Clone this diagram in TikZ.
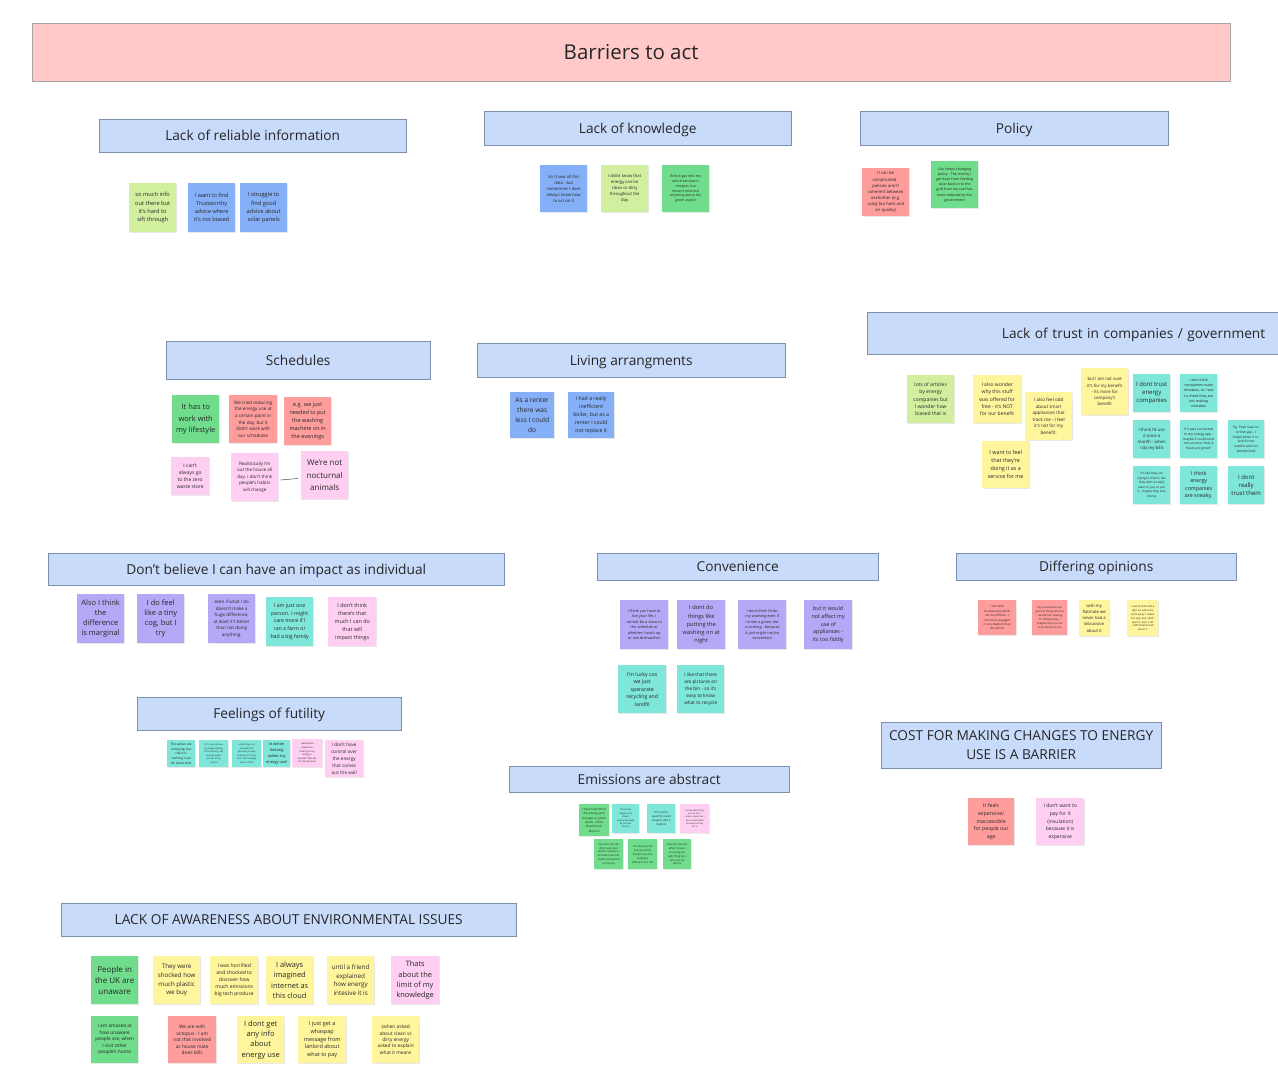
\documentclass[tikz,border=0pt]{standalone}
\usepackage{fontspec}
\setmainfont{Open Sans}
\usepackage{tikz}
\usetikzlibrary{shadows}
\definecolor{cTitulo}{HTML}{FFC9C9}
\definecolor{cCab}{HTML}{C9DBFB}
\definecolor{cBordeCab}{HTML}{7E8FAE}
\definecolor{cLima}{HTML}{D2EFA0}
\definecolor{cAzul}{HTML}{85AFF6}
\definecolor{cVerde}{HTML}{6FDD8B}
\definecolor{cRoja}{HTML}{FF9D9D}
\definecolor{cRosa}{HTML}{FFCFF1}
\definecolor{cAmarilla}{HTML}{FFF59D}
\definecolor{cMorada}{HTML}{B7A8F7}
\definecolor{cTurquesa}{HTML}{7FE6DA}
\tikzset{
	titulo/.style={draw=gray!70, fill=cTitulo, anchor=north west, text=black!85, font=\fontsize{20.5}{24}\selectfont}, % barra superior
	cabecera/.style={draw=cBordeCab, fill=cCab, anchor=north west, inner sep=0pt, text depth=0pt, align=center, text=black!85, font=\fontsize{13.7}{19}\selectfont}, % titulos de grupo
	nota/.style={anchor=north west, align=center, inner sep=0.8pt, minimum width=47pt, minimum height=48pt, text=black!85, drop shadow={shadow xshift=0.5pt, shadow yshift=-0.6pt, opacity=0.18}}, % post-it
	caja/.style 2 args={minimum width=#1pt, minimum height=#2pt}, % tamano del post-it
	letra/.style 2 args={font=\fontsize{#1}{#2}\selectfont}, % tamano de letra
	lima/.style={fill=cLima},
	azul/.style={fill=cAzul},
	verde/.style={fill=cVerde},
	roja/.style={fill=cRoja},
	rosa/.style={fill=cRosa},
	amarilla/.style={fill=cAmarilla},
	morada/.style={fill=cMorada},
	turquesa/.style={fill=cTurquesa},
	union/.style={draw=black!70, line width=0.5pt} % linea entre notas
}
\begin{document}
\begin{tikzpicture}[x=1pt, y=-1pt]
	\path[use as bounding box, fill=white] (0,0) rectangle (1278,1067);
	\node[titulo, minimum width=1198pt, minimum height=58pt] (tit) at (32,23) {Barriers to act};

	\node[cabecera, caja={307}{33}] (hrel) at (99,119) {Lack of reliable information};
	\node[cabecera, caja={307}{34}] (hkno) at (484,111) {Lack of knowledge};
	\node[cabecera, caja={308}{34}] (hpol) at (860,111) {Policy};
	\node[cabecera, caja={264}{38}] (hsch) at (166,341) {Schedules};
	\node[cabecera, caja={308}{34}] (hliv) at (477,343) {Living arrangments};
	\node[cabecera, caja={411}{42}, text width=385pt, align=right] (htru) at (867,312) {Lack of trust in companies / government};
	\node[cabecera, caja={456}{32}] (hind) at (48,553) {Don't believe I can have an impact as individual};
	\node[cabecera, caja={281}{27}] (hcon) at (597,553) {Convenience};
	\node[cabecera, caja={280}{27}] (hdif) at (956,553) {Differing opinions};
	\node[cabecera, caja={264}{33}] (hfut) at (137,697) {Feelings of futility};
	\node[cabecera, caja={280}{46}] (hcos) at (881,722) {COST FOR MAKING CHANGES TO ENERGY\\USE IS A BARRIER};
	\node[cabecera, caja={280}{26}] (hemi) at (509,766) {Emissions are abstract};
	\node[cabecera, caja={455}{33}] (hawa) at (61,903) {LACK OF AWARENESS ABOUT ENVIRONMENTAL ISSUES};

	\node[nota, lima, caja={47}{49}, letra={5.7}{8.3}] (rel1) at (129,183) {so much info\\out there but\\it's hard to\\sift through};
	\node[nota, azul, caja={47}{49}, letra={5.5}{8}] (rel2) at (188,183) {I want to find\\Trustworthy\\advice where\\it's not biased};
	\node[nota, azul, caja={47}{49}, letra={5.7}{8.3}] (rel3) at (240,183) {I struggle to\\find good\\advice about\\solar panels};

	\node[nota, azul, caja={47}{47}, letra={4.2}{6}] (kno1) at (540,165) {So I have all this\\data - but\\sometimes I dont\\always know how\\to act on it};
	\node[nota, lima, caja={47}{47}, letra={4.2}{6}] (kno2) at (601,165) {I didnt know that\\energy can be\\clean or dirty\\throughout the\\day};
	\node[nota, verde, caja={47}{47}, letra={3.5}{4.9}] (kno3) at (662,165) {British gas tells me\\which window is\\cheaper, but\\doesn't mention\\anything about the\\green aspect};

	\node[nota, roja, letra={4.2}{6.1}] (pol1) at (862,168) {It can be\\complicated -\\policies aren't\\coherent between\\eachother (e.g.\\using bio fuels and\\air quality)};
	\node[nota, verde, caja={47}{47}, letra={3.6}{5.2}] (pol2) at (931,161) {Gov keeps changing\\policy - The money I\\get back from feeding\\solar back in to the\\grid from my roof has\\been reduced by the\\government};

	\node[nota, verde, letra={7.5}{11.3}] (sch1) at (172,395) {It has to\\work with\\my lifestyle};
	\node[nota, roja, caja={48}{48}, letra={4.6}{6.7}] (sch2) at (229,395) {We tried reducing\\the energy use at\\a certain point in\\the day, but it\\didn't work with\\our schedules};
	\node[nota, roja, letra={5.5}{8}] (sch3) at (284,397) {e.g. we just\\needed to put\\the washing\\machine on in\\the evenings};
	\node[nota, rosa, caja={38}{38}, letra={5}{7.3}] (sch4) at (171,457) {I can't\\always go\\to the zero\\waste store};
	\node[nota, rosa, letra={4.5}{6.5}] (sch5) at (231,453) {Realistically I'm\\out the house all\\day. I don't think\\people's habits\\will change};
	\node[nota, rosa, letra={8}{12.3}] (sch6) at (301,451) {We're not\\nocturnal\\animals};
	\draw[union, shorten <=2pt, shorten >=3pt] ([yshift=-3pt]sch5.east) -- ([yshift=-3pt]sch6.west);

	\node[nota, azul, caja={44}{46}, letra={6.6}{10}] (liv1) at (510,392) {As a renter\\there was\\less I could\\do};
	\node[nota, azul, caja={46}{46}, letra={5.2}{7.8}] (liv2) at (568,392) {I had a really\\inefficient\\boiler, but as a\\renter I could\\not replace it};

	\node[nota, lima, letra={5}{7.2}] (tru1) at (907,375) {lots of articles\\by energy\\companies but\\I wonder how\\biased that is};
	\node[nota, amarilla, caja={48}{48}, letra={5}{7.2}] (tru2) at (973,375) {I also wonder\\why this stuff\\was offered for\\free - it's NOT\\for our benefit};
	\node[nota, amarilla, letra={4.5}{6.5}] (tru3) at (1025,392) {I also feel odd\\about smart\\appliances that\\track me - I feel\\it's not for my\\benefit.};
	\node[nota, amarilla, caja={47}{47}, letra={4.3}{6.3}] (tru4) at (1081,368) {but I am not sure\\it's for my benefit\\- its more for\\company's\\benefit};
	\node[nota, amarilla, caja={47}{47}, letra={5.4}{7.9}] (tru5) at (982,441) {I want to feel\\that they're\\doing it as a\\service for me};
	\node[nota, turquesa, caja={37}{38}, letra={6}{8}] (tru6) at (1133,374) {I dont trust\\energy\\companies};
	\node[nota, turquesa, caja={37}{38}, letra={3.6}{5.2}] (tru7) at (1180,374) {I also think\\companies make\\mistakes, so I see\\to check they are\\not making\\mistakes};
	\node[nota, turquesa, caja={37}{38}, letra={4.3}{6.2}] (tru8) at (1133,420) {I think I'd use\\it once a\\month - when\\I do my bills};
	\node[nota, turquesa, caja={37}{38}, letra={3.3}{4.8}] (tru9) at (1180,420) {If it was connected\\to my energy app -\\maybe it could send\\me a notice "next 4\\hours are green"};
	\node[nota, turquesa, caja={36}{38}, letra={3.3}{4.8}] (tru10) at (1228,420) {Eg. Peak Save on\\british gas - I\\forget when it is -\\and it's not\\explicit and not\\worded well};
	\node[nota, turquesa, caja={37}{38}, letra={3.1}{4.6}] (tru11) at (1133,466) {It's like they are\\trying to hide it, like\\they dont actually\\want to you to use\\it - maybe they lose\\money};
	\node[nota, turquesa, caja={37}{38}, letra={5.3}{7.6}] (tru12) at (1180,466) {I think\\energy\\companies\\are sneaky.};
	\node[nota, turquesa, caja={36}{38}, letra={6}{8.3}] (tru13) at (1228,466) {I dont\\really\\trust them};

	\node[nota, morada, caja={47}{49}, letra={7.5}{10}] (ind1) at (77,594) {Also I think\\the\\difference\\is marginal};
	\node[nota, morada, caja={47}{49}, letra={7.5}{10}] (ind2) at (137,594) {I do feel\\like a tiny\\cog, but I\\try};
	\node[nota, morada, caja={47}{49}, letra={4.5}{6.5}] (ind3) at (208,594) {even if what I do\\doesn't make a\\huge difference,\\at least it's better\\than not doing\\anything.};
	\node[nota, turquesa, caja={47}{49}, letra={5.2}{7.8}] (ind4) at (266,597) {I am just one\\person. I might\\care more if I\\ran a farm or\\had a big family};
	\node[nota, rosa, caja={48}{49}, letra={5.4}{8}] (ind5) at (328,597) {I don't think\\there's that\\much I can do\\that will\\impact things};

	\node[nota, morada, caja={48}{49}, letra={3.8}{5.5}] (con1) at (620,600) {I think you have to\\live your life, I\\cannot be a slave to\\the schedule or\\whether I wash up\\or use dishwasher};
	\node[nota, morada, caja={48}{49}, letra={5.7}{8.1}] (con2) at (677,600) {I dont do\\things like\\putting the\\washing on at\\night};
	\node[nota, morada, caja={48}{49}, letra={3.8}{5.5}] (con3) at (738,600) {I dont think I'd do\\my washing even if\\I knew a green slot\\is coming - because\\it just might not be\\convenient};
	\node[nota, morada, caja={48}{49}, letra={5.4}{7.8}] (con4) at (804,600) {but it would\\not affect my\\use of\\appliances -\\its too fiddly};
	\node[nota, turquesa, caja={48}{48}, letra={5.2}{7.5}] (con5) at (618,665) {I'm lucky cos\\we just\\sperarate\\recycling and\\landfil};
	\node[nota, turquesa, letra={4.7}{6.8}] (con6) at (677,665) {I like that there\\are pictures on\\the bin - so it's\\easy to know\\what to recycle};

	\node[nota, roja, caja={38}{35}, letra={3}{4.4}] (dif1) at (978,600) {I live with\\housemates which\\can be difficult - I\\am more engaged\\in eco-matters than\\the others};
	\node[nota, roja, caja={35}{35}, letra={2.7}{4}] (dif2) at (1032,600) {My housemates are\\good at things like this\\- would turn heating\\on infrequently. I\\imagine they are not\\as bothered as me};
	\node[nota, amarilla, caja={30}{36}, letra={4.2}{6.2}] (dif3) at (1079,600) {with my\\flatmate we\\never had a\\discussion\\about it};
	\node[nota, amarilla, caja={31}{36}, letra={2.6}{3.9}] (dif4) at (1127,600) {I saw that she left a\\light on when she\\went away. I asked\\her why, but I didnt\\want to turn it off\\- didnt feel fussed\\about it};

	\node[nota, turquesa, caja={28}{27}, letra={3.2}{4.6}] (fut1) at (167,740) {The spikes are\\annoying, but\\there is\\nothing I can\\do about that};
	\node[nota, turquesa, caja={29}{27}, letra={2.3}{3.5}] (fut2) at (199,740) {If I'm out and see\\my usage spiking,\\it's frustrating. My\\energy spikes\\are out of my\\control};
	\node[nota, turquesa, caja={29}{27}, letra={2.3}{3.5}] (fut3) at (232,740) {I could log on to\\see when I'm\\spending money\\and when it is low\\but I can't change\\much of that};
	\node[nota, turquesa, caja={27}{27}, letra={3.9}{5.8}] (fut4) at (263,740) {In winter\\heating\\spikes my\\energy use!};
	\node[nota, rosa, caja={30}{28}, letra={2.4}{3.6}] (fut5) at (292,739) {I would feel\\powerless\\looking at my\\energy. I\\wouldn't feel like\\I'm doing much};
	\node[nota, rosa, caja={38}{37}, letra={4.6}{6.8}] (fut6) at (325,740) {I don't have\\control over\\the energy\\that comes\\out the wall};

	\node[nota, verde, caja={30}{32}, letra={3}{4.3}] (emi1) at (579,804) {I have heard that\\the energy grid\\changes to green\\levels. I dont\\know much\\about it};
	\node[nota, turquesa, caja={27}{29}, letra={2.3}{3.4}] (emi2) at (612,804) {It's hard to\\imagine my\\impact\\environmentally\\as just one\\person};
	\node[nota, turquesa, caja={28}{29}, letra={2.8}{4.1}] (emi3) at (647,804) {It's hard to\\quantify it and\\imagine that it\\matters};
	\node[nota, rosa, caja={29}{29}, letra={2.2}{3.3}] (emi4) at (680,804) {I know everything\\you do has a\\carbon impact but I\\don't understand\\the detail of why\\this is};
	\node[nota, verde, caja={29}{30}, letra={2.6}{3.9}] (emi5) at (594,839) {You can't see the\\effect with your\\carbon reduction -\\emissions are not\\visible (compared\\to money)};
	\node[nota, verde, caja={29}{30}, letra={2.7}{4}] (emi6) at (628,839) {You do your bit\\but you don't\\know if you are\\making a\\difference or not};
	\node[nota, verde, caja={28}{30}, letra={2.6}{3.9}] (emi7) at (663,839) {How do I see the\\affect I know I\\am doing the\\right thing but I\\can't see the\\effects};

	\node[nota, roja, caja={46}{47}, letra={5.2}{7.8}] (cos1) at (968,798) {It feels\\expensive/\\inaccessible\\for people our\\age};
	\node[nota, rosa, caja={48}{47}, letra={5}{7.7}] (cos2) at (1036,798) {I don't want to\\pay for it\\(insulation)\\because it is\\expensive};

	\node[nota, verde, letra={8}{11.2}] (awa1) at (91,956) {People in\\the UK are\\unaware};
	\node[nota, amarilla, letra={6.2}{8.7}] (awa2) at (153,956) {They were\\shocked how\\much plastic\\we buy};
	\node[nota, amarilla, caja={48}{48}, letra={5}{6.9}] (awa3) at (210,956) {I was horrified\\and shocked to\\discover how\\much emissions\\big tech produce};
	\node[nota, amarilla, letra={7.4}{10.1}] (awa4) at (266,956) {I always\\imagined\\internet as\\this cloud};
	\node[nota, amarilla, letra={6.3}{8.7}] (awa5) at (327,956) {until a friend\\explained\\how energy\\intesive it is};
	\node[nota, rosa, caja={48}{48}, letra={7.4}{10.1}] (awa6) at (391,956) {Thats\\about the\\limit of my\\knowledge};
	\node[nota, verde, caja={47}{47}, letra={4.8}{6.5}] (awa7) at (91,1016) {I am amazed at\\how unaware\\people are, when\\I visit other\\people's home};
	\node[nota, roja, caja={48}{47}, letra={4.8}{6.5}] (awa8) at (168,1016) {We are with\\octopus - I am\\not that involved\\as house mate\\does bills};
	\node[nota, amarilla, caja={47}{47}, letra={7.5}{10.3}] (awa9) at (237,1016) {I dont get\\any info\\about\\energy use};
	\node[nota, amarilla, caja={48}{47}, letra={5.5}{7.8}] (awa10) at (298,1016) {I just get a\\whaspap\\message from\\lanlord about\\what to pay};
	\node[nota, amarilla, caja={47}{47}, letra={4.8}{6.4}] (awa11) at (372,1016) {(when asked\\about clean vs\\dirty energy\\asked to explain\\what it means};
\end{tikzpicture}
\end{document}
